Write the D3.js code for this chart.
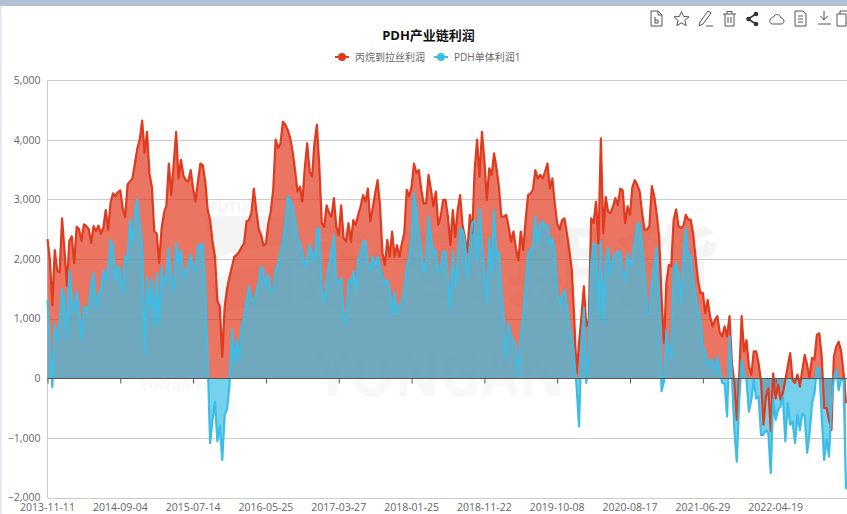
<!DOCTYPE html>
<html><head><meta charset="utf-8">
<script src="https://cdn.jsdelivr.net/npm/d3@7/dist/d3.min.js"></script>
<style>
html,body{margin:0;padding:0;background:#fff;overflow:hidden}
text{font-family:"Open Sans","Noto Sans CJK SC",sans-serif}
</style></head><body><script>
const chartTitle="PDH产业链利润";
const seriesNames=["丙烷到拉丝利润","PDH单体利润1"];
const tickLabels=["2013-11-11","2014-09-04","2015-07-14","2016-05-25","2017-03-27","2018-01-25","2018-11-22","2019-10-08","2020-08-17","2021-06-29","2022-04-19"];
const yTicks=[5000,4000,3000,2000,1000,0,-1000,-2000];
const redValues=[
2330,1980,1230,2150,1800,1780,2680,2150,1550,2300,
2380,1930,2540,2500,2300,2580,2550,2500,2270,2550,
2470,2560,2420,2520,2820,2490,2950,3100,3050,3120,
3150,2850,2700,3250,3300,3350,3600,3850,4000,4320,
3780,4130,3430,3210,2460,2430,1930,2510,2770,2900,
3600,3070,3600,4130,3350,3660,3400,3320,3300,3490,
3180,2960,3300,3600,3570,3300,2820,2650,2290,2040,
1300,1200,360,1200,1500,1700,1870,2040,2070,2120,
2200,2260,2630,2650,2770,3180,2820,2510,2400,2230,
2260,2600,2800,3160,4000,3860,3940,4300,4250,4160,
4030,3800,3490,3130,3210,2960,3520,3940,3460,3380,
3940,4250,3550,2600,2540,2900,2770,2710,3020,2540,
2400,2900,2350,2290,2600,2290,2650,2570,2740,2880,
3070,2960,3180,2630,2850,3100,3320,2900,2100,1900,
2320,2040,2460,2040,2230,2040,2260,2430,3160,3050,
3210,3600,3440,3490,3160,2930,2930,3410,3160,2880,
3130,2570,2710,2990,2990,2710,2230,2820,2370,2820,
3070,2570,2350,2120,2740,2430,3490,4000,3380,4130,
3660,2990,3520,3410,3770,3520,3210,2710,2710,2740,
2540,2290,2460,2180,1980,2460,2150,2650,3070,3100,
3160,3490,3350,3410,3350,3460,3600,3180,3350,2930,
2600,2490,2650,2680,2430,2150,1820,1030,80,590,
1030,1540,870,980,2680,2600,2960,2260,4020,2430,
3040,2790,2770,2880,3020,2900,3180,3150,2600,2880,
2740,3210,3320,3240,3130,2770,2490,2490,2550,3220,
3050,2750,2380,1370,590,1600,1900,1880,2660,2830,
2550,2520,2550,2740,2660,2660,2430,2040,1650,1430,
1430,1090,1310,1040,870,980,1040,760,700,870,
700,1040,250,-80,-700,30,1040,450,640,200,
60,450,450,250,-60,-780,-310,-170,-890,80,
-340,-110,-360,-250,-30,200,420,-30,-80,60,
-140,140,390,220,0,340,310,730,750,360,
-500,-500,-700,-870,360,530,610,450,80,-420];
const blueValues=[
1310,590,-150,920,640,920,1500,1370,670,1810,
1370,1090,1450,1200,640,1200,1150,1200,1590,1760,
1170,1420,1450,1800,1640,1870,2320,2210,1640,1890,
1800,1430,2050,1980,2650,2270,2770,3000,2540,2270,
400,1700,1200,1650,870,1760,920,1870,1540,1760,
2180,1700,1450,2260,1930,2150,1680,1810,1900,2070,
1870,1790,2230,2180,2260,1480,335,-1090,-700,-390,
-1060,-790,-1370,-620,-520,-100,810,250,650,300,
880,1000,1300,1540,1310,1310,1450,1590,1870,1810,
1510,1730,1450,1480,1820,1900,2100,2290,2600,3050,
2990,2880,2650,2370,2260,2100,1870,2040,2230,2120,
1950,2510,2510,1480,1280,1650,1900,2150,2400,1590,
1620,1680,1030,920,1650,1590,1790,1450,1980,2100,
2290,2290,1900,1810,2040,1870,2040,1870,1700,1590,
1650,1480,1060,1450,1090,1230,1280,1480,1870,2010,
2320,3100,2820,2460,2150,1760,1980,2710,2370,2100,
2150,1760,1870,2120,2120,1700,1150,2120,1540,1980,
2510,2480,2290,1680,2180,2600,2650,1980,2850,2260,
1810,1280,2350,1760,2820,2040,2120,1480,1000,340,
920,700,640,530,60,700,1030,1540,2100,2150,
2200,2710,2290,2570,2630,2540,2570,2230,2350,2120,
1420,1230,1370,1480,1230,870,700,360,-140,-810,
590,1170,-80,530,1930,2260,2230,1030,2290,930,
1980,2180,1730,2010,2090,2120,2120,1790,1650,2090,
1900,2010,2320,2570,2600,2230,1790,1120,1090,1600,
1900,2190,1370,-220,-50,810,530,310,1820,1930,
1760,1260,2040,2510,2100,2040,1650,1370,1150,980,
530,450,200,310,310,80,360,140,-80,-90,
-640,700,30,-870,-1400,-360,300,100,-30,-560,
-360,-30,-340,-310,-950,-950,-870,-920,-1590,-360,
-700,-530,-470,-310,-1060,-420,-780,-730,-1090,-610,
-870,-590,-640,-1250,-920,-420,-250,170,170,-640,
-1370,-1030,-1310,-470,0,140,-200,0,-30,-1860];
const pointsPerTick=30;

const W=847,H=514;
const RED="#e03a1f",BLUE="#3cbde6";
const svg=d3.select("body").append("svg").attr("width",W).attr("height",H).style("display","block");
svg.append("rect").attr("width",W).attr("height",6).attr("fill","#b1c1d5");
svg.append("rect").attr("y",6).attr("width",1.5).attr("height",H).attr("fill","#dfe6f0");

const x=d3.scalePoint().domain(d3.range(redValues.length)).range([47.5,846]);
const y=d3.scaleLinear().domain([-2000,5000]).range([497.5,80]);

// watermark
const wm=svg.append("g").attr("fill","#f3f5f5").attr("font-weight",700);
wm.append("path").attr("d","M205,218C240,214 270,216 290,218V310C260,312 232,300 218,318C210,290 214,250 205,218Z");
wm.append("path").attr("d","M212,262C235,246 262,252 290,240V258C262,268 236,262 214,282Z").attr("fill","#fff");
wm.append("text").attr("x",292).attr("y",298).attr("font-size",88).attr("textLength",428).attr("lengthAdjust","spacingAndGlyphs").attr("font-family","Noto Sans CJK SC").text("永安期货");
wm.append("text").attr("x",315).attr("y",396).attr("font-size",60).attr("textLength",250).attr("lengthAdjust","spacingAndGlyphs").attr("fill","#f7f8f8").text("YONGAN");
wm.append("text").attr("x",140).attr("y",390).attr("font-size",17).attr("textLength",62).attr("lengthAdjust","spacingAndGlyphs").attr("fill","#f7f8f8").text("YONGAN");
wm.append("text").attr("x",210).attr("y",212).attr("font-size",14).attr("textLength",62).attr("lengthAdjust","spacingAndGlyphs").text("FUTURES");

// grid
svg.append("g").selectAll("line").data(yTicks).join("line")
 .attr("x1",47.5).attr("x2",W).attr("y1",d=>Math.round(y(d))+.5).attr("y2",d=>Math.round(y(d))+.5)
 .attr("stroke","#ccc").attr("stroke-width",1);
svg.append("line").attr("x1",47.5).attr("x2",47.5).attr("y1",80).attr("y2",497.5).attr("stroke","#ccc");

const yAxis=d3.axisLeft(y).tickValues(yTicks).tickSize(0).tickPadding(7).tickFormat(d3.format(","));
const gy=svg.append("g").attr("transform","translate(47.5,0)").call(yAxis);
gy.select(".domain").remove();
gy.selectAll("text").attr("font-size",10.5).attr("fill","#666").attr("font-family",'"Open Sans",sans-serif');

// areas
const idx=d3.range(redValues.length);
const area=v=>d3.area().x(i=>x(i)).y0(y(0)).y1(i=>y(v[i]))(idx);
const line=v=>d3.line().x(i=>x(i)).y(i=>y(v[i]))(idx);
svg.append("path").attr("d",area(redValues)).attr("fill",RED).attr("fill-opacity",.7);
svg.append("path").attr("d",area(blueValues)).attr("fill",BLUE).attr("fill-opacity",.7);
svg.append("path").attr("d",line(redValues)).attr("fill","none").attr("stroke",RED).attr("stroke-width",2.2).attr("stroke-linejoin","round");
svg.append("path").attr("d",line(blueValues)).attr("fill","none").attr("stroke",BLUE).attr("stroke-width",2.2).attr("stroke-linejoin","round");

// x axis on zero line, labels at bottom
const tickIdx=tickLabels.map((_,k)=>k*pointsPerTick);
const xAxis=d3.axisBottom(x).tickValues(tickIdx).tickSize(5).tickFormat("");
const gx=svg.append("g").attr("transform",`translate(0,${Math.round(y(0))+.5})`).call(xAxis);
gx.select(".domain").attr("stroke","#555").attr("d",`M47.5,0H${W}`);
gx.selectAll(".tick line").attr("stroke","#555");
svg.append("g").selectAll("text").data(tickLabels).join("text")
 .attr("x",(d,k)=>x(tickIdx[k])).attr("y",510.5).attr("text-anchor","middle")
 .attr("font-size",10.5).attr("fill","#666").text(d=>d);

// title and legend
svg.append("text").attr("x",428.5).attr("y",40).attr("text-anchor","middle").attr("font-size",13).attr("font-weight",700).attr("fill","#111").text(chartTitle);
const legend=[{n:seriesNames[0],c:RED,mx:342,tx:355},{n:seriesNames[1],c:BLUE,mx:441,tx:454}];
const lg=svg.append("g").selectAll("g").data(legend).join("g");
lg.append("line").attr("x1",d=>d.mx-7).attr("x2",d=>d.mx+7).attr("y1",57).attr("y2",57).attr("stroke",d=>d.c).attr("stroke-width",2);
lg.append("circle").attr("cx",d=>d.mx).attr("cy",57).attr("r",4).attr("fill",d=>d.c);
lg.append("text").attr("x",d=>d.tx).attr("y",60.5).attr("font-size",10).attr("fill","#666").text(d=>d.n);

// toolbox icons
const icons=svg.append("g").attr("fill","none").attr("stroke","#555").attr("stroke-width",1);
const ic=(tx,d,o)=>icons.append("path").attr("transform",`translate(${tx},11)`).attr("d",d).attr("stroke",o||"#555");
ic(651,"M0,0H7L11,4V15H0Z M7,0V4H11 M4,6V12H7V9H4");
ic(674,"M7.5,0.5L9.6,5.4L15,5.9L10.9,9.4L12.2,14.6L7.5,11.9L2.8,14.6L4.1,9.4L0,5.9L5.4,5.4Z");
ic(698,"M10,0L13,2L5,13L1,15L2,11Z M8,15H15");
ic(723,"M0,3H13 M4,3V0.5H9V3 M2,3V15H11V3 M5,6V12 M8,6V12");
icons.append("g").attr("transform","translate(746,11)").call(g=>{
 g.append("path").attr("d","M2,8L10,3 M2,8L10,13").attr("stroke","#333").attr("stroke-width",1.5);
 g.append("circle").attr("cx",2.5).attr("cy",8).attr("r",2.3).attr("fill","#333").attr("stroke","none");
 g.append("circle").attr("cx",10).attr("cy",3).attr("r",2.3).attr("fill","#333").attr("stroke","none");
 g.append("circle").attr("cx",10).attr("cy",13).attr("r",2.3).attr("fill","#333").attr("stroke","none");
});
ic(769,"M3,13H12C16,13 16,7 12,7C11,3 6,2 4.5,6C1,6 -1,12 3,13Z");
ic(795,"M0,0H8L11,3V15H0Z M3,5H8 M3,8H8 M3,11H8");
ic(818,"M6,0V8 M2.5,5L6,9L9.5,5 M0,13H13");
ic(837,"M0,3H9V15H0Z M3,3V0H13V12H9");
</script></body></html>
